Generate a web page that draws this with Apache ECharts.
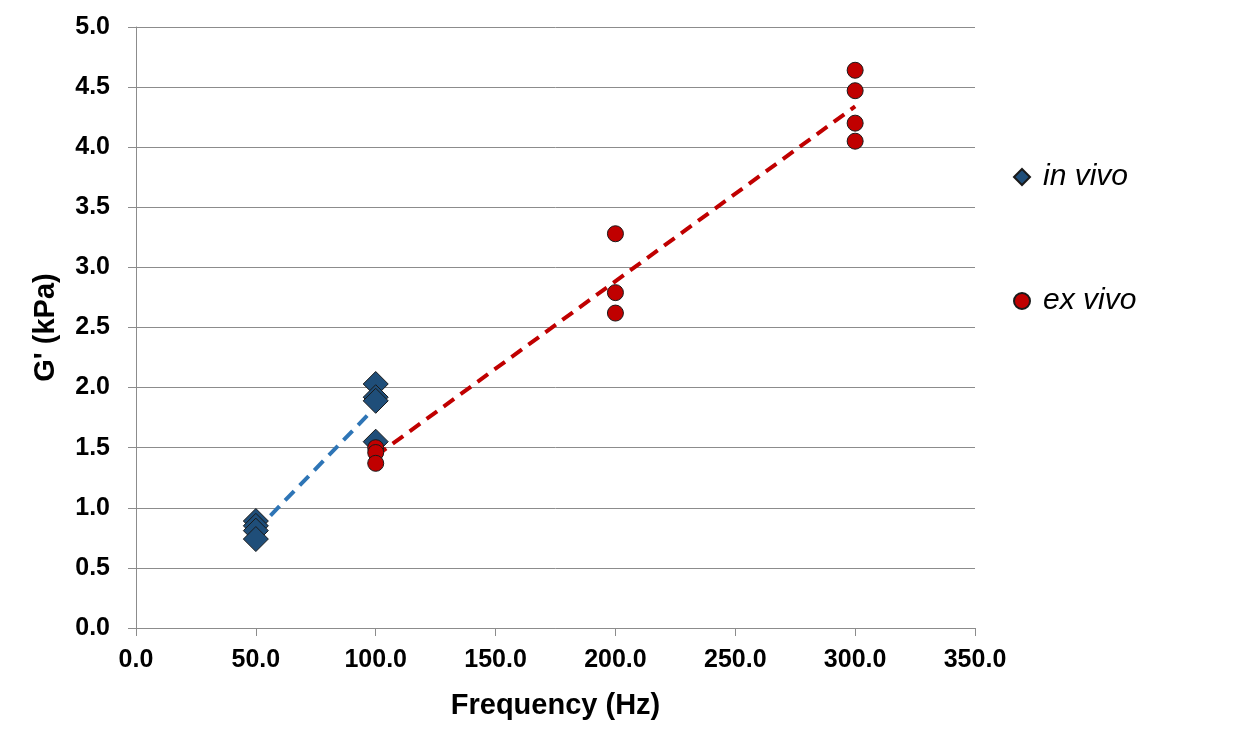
<!DOCTYPE html>
<html>
<head>
<meta charset="utf-8">
<script src="https://cdn.jsdelivr.net/npm/echarts@6/dist/echarts.min.js"></script>
<style>
html,body{margin:0;padding:0;background:#fff;}
#chart{width:1256px;height:749px;}
</style>
</head>
<body>
<div id="chart"></div>
<script>
// Data
var inVivoFreq  = [50, 50, 50, 50, 100, 100, 100, 100];
var inVivoG     = [0.89, 0.85, 0.81, 0.74, 2.03, 1.92, 1.89, 1.55];
var exVivoFreq  = [100, 100, 100, 200, 200, 200, 300, 300, 300, 300];
var exVivoG     = [1.50, 1.46, 1.37, 3.28, 2.79, 2.62, 4.64, 4.47, 4.20, 4.05];
var inVivoTrendX = [50, 100];
var inVivoTrendY = [0.81, 1.84];
var exVivoTrendX = [100, 300];
var exVivoTrendY = [1.43, 4.34];
var seriesNames = ['in vivo', 'ex vivo'];
var xTitle = 'Frequency (Hz)';
var yTitle = "G' (kPa)";

function pairs(xs, ys){ return xs.map(function(x,i){ return [x, ys[i]]; }); }

var font = '"Liberation Sans", Arial, sans-serif';
var grayLine = '#8c8c8c';

var chart = echarts.init(document.getElementById('chart'), null, {renderer:'canvas'});
chart.setOption({
  animation: false,
  backgroundColor: '#ffffff',
  grid: { left: 136, right: 281, top: 27, bottom: 121, containLabel: false },
  legend: {
    orient: 'vertical',
    left: 1008,
    top: 157,
    itemWidth: 16,
    itemHeight: 16,
    itemGap: 94,
    data: seriesNames,
    textStyle: { fontFamily: font, fontSize: 30, fontStyle: 'italic', color: '#000', padding: [0,0,0,8] }
  },
  xAxis: {
    type: 'value',
    min: 0, max: 350, interval: 50,
    name: xTitle,
    nameLocation: 'middle',
    nameGap: 63,
    nameTextStyle: { fontFamily: font, fontSize: 29, fontWeight: 'bold', color: '#000' },
    axisLine: { show: true, lineStyle: { color: grayLine, width: 1 } },
    axisTick: { show: true, length: 8, lineStyle: { color: grayLine } },
    splitLine: { show: false },
    axisLabel: {
      fontFamily: font, fontSize: 25, fontWeight: 'bold', color: '#000', margin: 20,
      formatter: function(v){ return v.toFixed(1); }
    }
  },
  yAxis: {
    type: 'value',
    min: 0, max: 5, interval: 0.5,
    name: yTitle,
    nameLocation: 'middle',
    nameGap: 76,
    nameRotate: 90,
    nameTextStyle: { fontFamily: font, fontSize: 29, fontWeight: 'bold', color: '#000' },
    axisLine: { show: true, lineStyle: { color: grayLine, width: 1 } },
    axisTick: { show: true, length: 8, lineStyle: { color: grayLine } },
    splitLine: { show: true, lineStyle: { color: grayLine, width: 1 } },
    axisLabel: {
      fontFamily: font, fontSize: 25, fontWeight: 'bold', color: '#000', margin: 26,
      formatter: function(v){ return v.toFixed(1); }
    }
  },
  series: [
    {
      name: 'in vivo trend',
      type: 'line',
      data: pairs(inVivoTrendX, inVivoTrendY),
      showSymbol: false,
      symbol: 'none',
      lineStyle: { color: '#2E75B6', width: 4, type: [13, 8] },
      z: 1,
      silent: true
    },
    {
      name: 'ex vivo trend',
      type: 'line',
      data: pairs(exVivoTrendX, exVivoTrendY),
      showSymbol: false,
      symbol: 'none',
      lineStyle: { color: '#C00000', width: 4, type: [13, 8] },
      z: 1,
      silent: true
    },
    {
      name: seriesNames[0],
      type: 'scatter',
      symbol: 'diamond',
      symbolSize: 25,
      data: pairs(inVivoFreq, inVivoG),
      itemStyle: { color: '#1F4E79', borderColor: '#1a1a1a', borderWidth: 1, opacity: 1 },
      z: 3
    },
    {
      name: seriesNames[1],
      type: 'scatter',
      symbol: 'circle',
      symbolSize: 16,
      data: pairs(exVivoFreq, exVivoG),
      itemStyle: { color: '#C00000', borderColor: '#1a1a1a', borderWidth: 1, opacity: 1 },
      z: 4
    }
  ]
});
</script>
</body>
</html>
